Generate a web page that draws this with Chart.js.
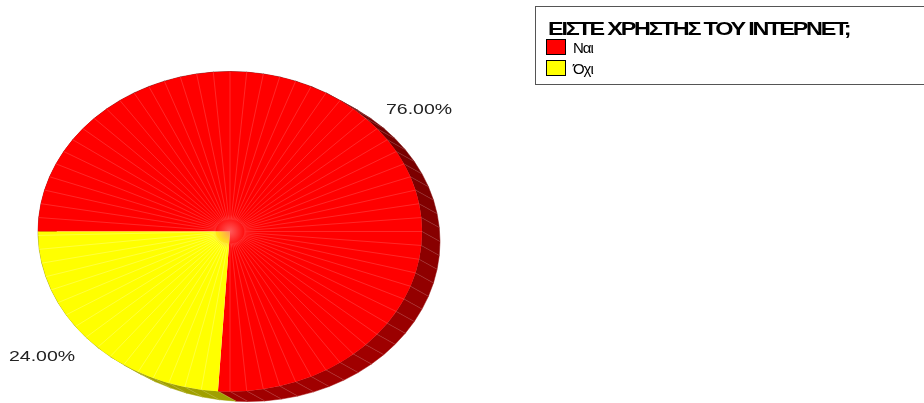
<!DOCTYPE html>
<html lang="el">
<head>
    <meta charset="UTF-8">
    <title>ΕΙΣΤΕ ΧΡΗΣΤΗΣ ΤΟΥ ΙΝΤΕΡΝΕΤ;</title>
    <script src="https://cdn.jsdelivr.net/npm/chart.js"></script>
    <style>
        html, body { margin: 0; padding: 0; background: #fff; overflow: hidden; }
        #wrap { position: relative; width: 924px; height: 403px; }
        canvas { position: absolute; left: 0; top: 0; }
        #legend {
            position: absolute; left: 535px; top: 6px; width: 389px; height: 79px;
            box-sizing: border-box; border: 1px solid #555; border-right: 0;
            font-family: "Liberation Sans", Arial, sans-serif; color: #000;
        }
        #legend h2 {
            position: absolute; left: 12px; top: 12px; margin: 0; white-space: nowrap;
            font-size: 18px; line-height: 20px; font-weight: bold; letter-spacing: -1.7px;
            transform: scaleX(1.3); transform-origin: left center;
        }
        #legend div { position: absolute; left: 10px; height: 20px; white-space: nowrap; font-size: 15px; line-height: 18px; letter-spacing: -1px; }
        #legend i { display: inline-block; width: 18px; height: 14px; border: 1px solid #000; margin-right: 7px; vertical-align: -2px; }
    </style>
</head>
<body>
    <div id="wrap">
        <canvas id="pie" width="924" height="403"></canvas>
        <div id="legend"></div>
    </div>

    <script>
        // Data
        const legendTitle = 'ΕΙΣΤΕ ΧΡΗΣΤΗΣ ΤΟΥ ΙΝΤΕΡΝΕΤ;';
        const categories = ['Ναι', 'Όχι'];
        const values = [76, 24];
        const valueLabels = ['76.00%', '24.00%'];
        const sliceColors = ['#ff0000', '#ffff00'];
        const sideColors = [[160, 0, 0], [160, 160, 0]];

        const stretchX = 1.2;       // circle -> ellipse
        const depthX = 18, depthY = 10;
        const seamStep = 5 * Math.PI / 180;
        const seamHole = 12;        // seams stop here, the glow covers the rest of the centre

        // pie is drawn as a circle, stretch it sideways around its centre
        function stretch(ctx, x, y) {
            ctx.translate(x, y);
            ctx.scale(stretchX, 1);
            ctx.translate(-x, -y);
        }

        const pie3d = {
            id: 'pie3d',
            beforeDatasetsDraw(chart) {
                const ctx = chart.ctx;
                const arcs = chart.getDatasetMeta(0).data;

                // side wall, one facet per seam
                arcs.forEach((arc, i) => {
                    const r = arc.outerRadius;
                    for (let a = arc.startAngle; a < arc.endAngle - 1e-6; a += seamStep) {
                        const b = Math.min(a + seamStep, arc.endAngle);
                        const x1 = arc.x + Math.cos(a) * r * stretchX, y1 = arc.y + Math.sin(a) * r;
                        const x2 = arc.x + Math.cos(b) * r * stretchX, y2 = arc.y + Math.sin(b) * r;
                        // darker towards the top right, lit towards the bottom
                        const shade = Math.min(1, 0.85 + 0.2 * Math.sin((a + b) / 2));
                        const c = sideColors[i].map(v => Math.round(v * shade));
                        ctx.beginPath();
                        ctx.moveTo(x1, y1);
                        ctx.lineTo(x2, y2);
                        ctx.lineTo(x2 + depthX, y2 + depthY);
                        ctx.lineTo(x1 + depthX, y1 + depthY);
                        ctx.closePath();
                        ctx.fillStyle = `rgb(${c[0]},${c[1]},${c[2]})`;
                        ctx.strokeStyle = ctx.fillStyle;
                        ctx.lineWidth = 0.5;
                        ctx.fill();
                        ctx.stroke();
                    }
                    // facet edges go on top of all the fills
                    ctx.strokeStyle = 'rgba(255,255,255,0.16)';
                    ctx.lineWidth = 0.8;
                    for (let a = arc.startAngle; a < arc.endAngle - 1e-6; a += seamStep) {
                        const x1 = arc.x + Math.cos(a) * r * stretchX, y1 = arc.y + Math.sin(a) * r;
                        ctx.beginPath();
                        ctx.moveTo(x1, y1);
                        ctx.lineTo(x1 + depthX, y1 + depthY);
                        ctx.stroke();
                    }
                });

                ctx.save();
                stretch(ctx, arcs[0].x, arcs[0].y);
            },
            afterDatasetsDraw(chart) {
                const ctx = chart.ctx;
                ctx.restore();
                const arcs = chart.getDatasetMeta(0).data;

                // seams on the top face
                arcs.forEach((arc, i) => {
                    ctx.strokeStyle = i === 0 ? 'rgba(255,170,170,0.4)' : 'rgba(255,255,170,0.6)';
                    ctx.lineWidth = 0.6;
                    for (let a = arc.startAngle + seamStep; a < arc.endAngle - 0.01; a += seamStep) {
                        const cos = Math.cos(a) * stretchX, sin = Math.sin(a);
                        ctx.beginPath();
                        ctx.moveTo(arc.x + cos * seamHole, arc.y + sin * seamHole);
                        ctx.lineTo(arc.x + cos * arc.outerRadius, arc.y + sin * arc.outerRadius);
                        ctx.stroke();
                    }
                });

                // pinkish glow where the seams meet
                const cx = arcs[0].x, cy = arcs[0].y;
                const glow = ctx.createRadialGradient(cx, cy, 0, cx, cy, 17);
                glow.addColorStop(0, 'rgba(255,120,120,0.75)');
                glow.addColorStop(1, 'rgba(255,120,120,0)');
                ctx.fillStyle = glow;
                ctx.beginPath();
                ctx.arc(cx, cy, 17, 0, Math.PI * 2);
                ctx.fill();

                // value labels, wide lettering
                const labelAt = [[386, 114], [9, 361]];
                ctx.font = '15px "Liberation Sans", Arial, sans-serif';
                ctx.fillStyle = '#222';
                ctx.textBaseline = 'alphabetic';
                valueLabels.forEach((text, i) => {
                    ctx.save();
                    ctx.translate(labelAt[i][0], labelAt[i][1]);
                    ctx.scale(1.3, 1);
                    ctx.fillText(text, 0, 0);
                    ctx.restore();
                });
            }
        };

        new Chart(document.getElementById('pie'), {
            type: 'pie',
            data: {
                labels: categories,
                datasets: [{
                    data: values,
                    backgroundColor: sliceColors,
                    borderWidth: 0
                }]
            },
            options: {
                responsive: false,
                animation: false,
                rotation: 270,
                layout: { padding: { left: 70, right: 534, top: 71, bottom: 11 } },
                plugins: {
                    legend: { display: false },
                    tooltip: { enabled: false }
                }
            },
            plugins: [pie3d]
        });

        // Legend box
        const legend = document.getElementById('legend');
        const title = document.createElement('h2');
        title.textContent = legendTitle;
        legend.appendChild(title);
        categories.forEach((name, i) => {
            const row = document.createElement('div');
            row.style.top = (32 + i * 21) + 'px';
            const box = document.createElement('i');
            box.style.background = sliceColors[i];
            row.appendChild(box);
            row.appendChild(document.createTextNode(name));
            legend.appendChild(row);
        });
    </script>
</body>
</html>
